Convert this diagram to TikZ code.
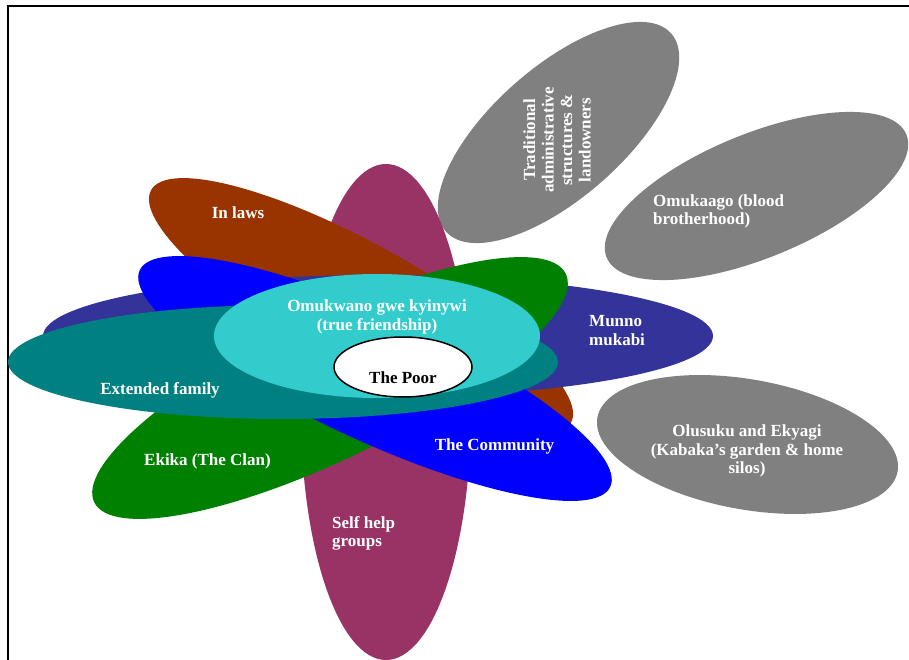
\documentclass[tikz,border=0pt]{standalone}
\usepackage{fontspec}
\setmainfont{Liberation Serif}
\definecolor{cmaroon}{HTML}{993366}
\definecolor{cbrown}{HTML}{993300}
\definecolor{cindigo}{HTML}{333399}
\definecolor{cgreen}{HTML}{008000}
\definecolor{cblue}{HTML}{0000FF}
\definecolor{cteal}{HTML}{008080}
\definecolor{ccyan}{HTML}{33CCCC}
\definecolor{cgray}{HTML}{808080}
\tikzset{
  lbl/.style={text=white, font=\fontsize{17}{18.5}\selectfont\bfseries, inner sep=0pt, align=center},
  lbll/.style={lbl, align=left},
}
\newcommand{\petal}[6]{\fill[#1, rotate around={#6:(#2,#3)}] (#2,#3) ellipse [x radius=#4, y radius=#5];}
\begin{document}
\begin{tikzpicture}[x=1pt, y=-1pt]
\useasboundingbox (0,0) rectangle (909,660);
% frame
\coordinate (fbl) at (8,660);
\coordinate (ftl) at (8,6);
\coordinate (ftr) at (909,6);
\draw[line width=2pt] (fbl) -- (ftl) -- (ftr);
% gray outer ellipses
\petal{cgray}{558.5}{132.5}{150}{65.5}{41.3}
\petal{cgray}{756.5}{196}{162}{62}{22.3}
\petal{cgray}{747.5}{444.5}{152.5}{65}{-10.2}
% flower petals
\petal{cmaroon}{386}{412}{85}{248}{0}
\petal{cbrown}{361}{306.5}{240}{62}{-29}
\petal{cindigo}{378}{336}{335}{61}{0}
\petal{cgreen}{330}{388}{262}{71}{25.85}
\petal{cblue}{375}{378.5}{259}{63}{-24.7}
\petal{cteal}{283}{362}{275}{57}{0}
\petal{ccyan}{377}{336}{163}{62}{0}
\draw[fill=white, line width=1.5pt] (403,367) ellipse [x radius=69, y radius=30];
% labels
\node[lbl, rotate=90] (trad) at (557,140) {Traditional\\administrative\\structures \&\\landowners};
\node[lbll, anchor=west] (omuk) at (653,211.5) {Omukaago (blood\\brotherhood)};
\node[lbll, anchor=west] (munno) at (589,330.5) {Munno\\mukabi};
\node[lbl] (olus) at (747,451) {Olusuku and Ekyagi\\(Kabaka’s garden \& home\\silos)};
\node[lbl] (inlaws) at (238,213) {In laws};
\node[lbl] (ext) at (160,390) {Extended family};
\node[lbl] (ekika) at (207.5,461) {Ekika (The Clan)};
\node[lbl] (comm) at (494.5,446) {The Community};
\node[lbll, anchor=west] (self) at (332,533.5) {Self help\\groups};
\node[lbl] (true) at (377,317) {Omukwano gwe kyinywi\\(true friendship)};
\node[lbl, text=black] (poor) at (403,378) {The Poor};
\end{tikzpicture}
\end{document}
